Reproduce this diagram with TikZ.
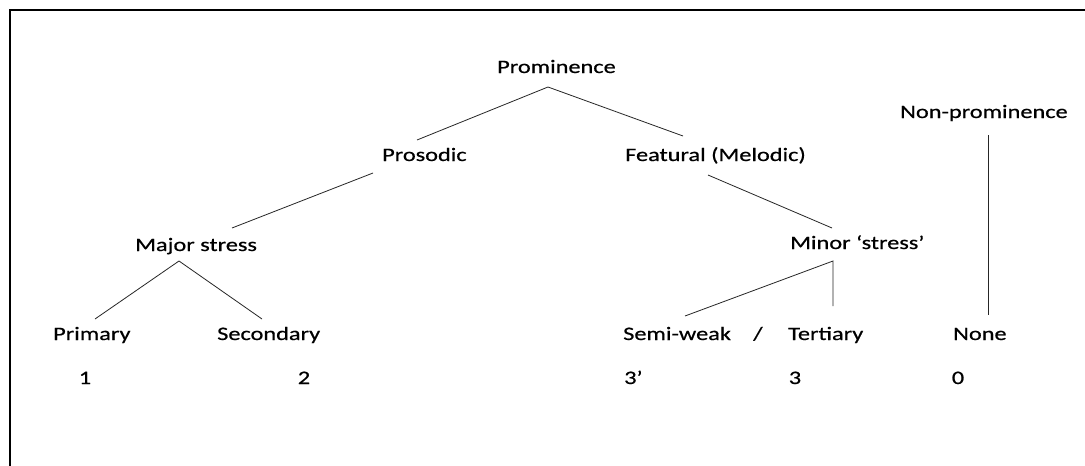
\documentclass[tikz,border=0pt]{standalone}
\usepackage{fontspec}
\setmainfont{Carlito}[FakeStretch=1.28,FakeBold=0.6]
\begin{document}
\begin{tikzpicture}[x=1pt,y=-1pt,
  lbl/.style={anchor=base west, inner sep=0pt, font=\fontsize{19}{22}\selectfont, text=black},
  num/.style={anchor=base, inner sep=0pt, font=\fontsize{19}{22}\selectfont, text=black},
  conn/.style={line width=0.8pt, draw=black!85}]
\useasboundingbox (0,0) rectangle (1085,466);
\fill[white] (0,0) rectangle (1085,466);
% frame (top and left only visible)
\draw[line width=2pt] (10,470) -- (10,10) -- (1090,10);

% labels
\node[lbl] (prom) at (497,73) {Prominence};
\node[lbl] (nonprom) at (900,118) {Non-prominence};
\node[lbl] (pros) at (382,161) {Prosodic};
\node[lbl] (feat) at (625,161) {Featural (Melodic)};
\node[lbl] (major) at (135,251) {Major stress};
\node[lbl] (minor) at (790,249) {Minor ‘stress’};
\node[lbl] (prim) at (53,340) {Primary};
\node[lbl] (sec) at (217,340) {Secondary};
\node[lbl] (semi) at (623,340) {Semi-weak};
\node[num] (slash) at (758,340) {/};
\node[lbl] (tert) at (788,340) {Tertiary};
\node[lbl] (none) at (953,340) {None};
\node[num] (n1) at (85,384) {1};
\node[num] (n2) at (304,384) {2};
\node[lbl] (n3p) at (624,384) {3’};
\node[num] (n3) at (795,384) {3};
\node[num] (n0) at (958,384) {0};

% connector end points
\coordinate (promB) at (548,87);
\coordinate (prosT) at (417,140);
\coordinate (featT) at (683,136);
\coordinate (prosB) at (373,173);
\coordinate (majorT) at (232,228);
\coordinate (featB) at (708,175);
\coordinate (minorT) at (832,228);
\coordinate (majorB) at (179,261);
\coordinate (primT) at (95,319);
\coordinate (secT) at (262,319);
\coordinate (minorB) at (833,261);
\coordinate (semiT) at (685,316);
\coordinate (tertT) at (833,306);
\coordinate (nonpromB) at (988,135);
\coordinate (noneT) at (988,315);

\draw[conn] (prosT) -- (promB) -- (featT);
\draw[conn] (prosB) -- (majorT);
\draw[conn] (featB) -- (minorT);
\draw[conn] (primT) -- (majorB) -- (secT);
\draw[conn] (semiT) -- (minorB) -- (tertT);
\draw[conn] (nonpromB) -- (noneT);
\end{tikzpicture}
\end{document}
